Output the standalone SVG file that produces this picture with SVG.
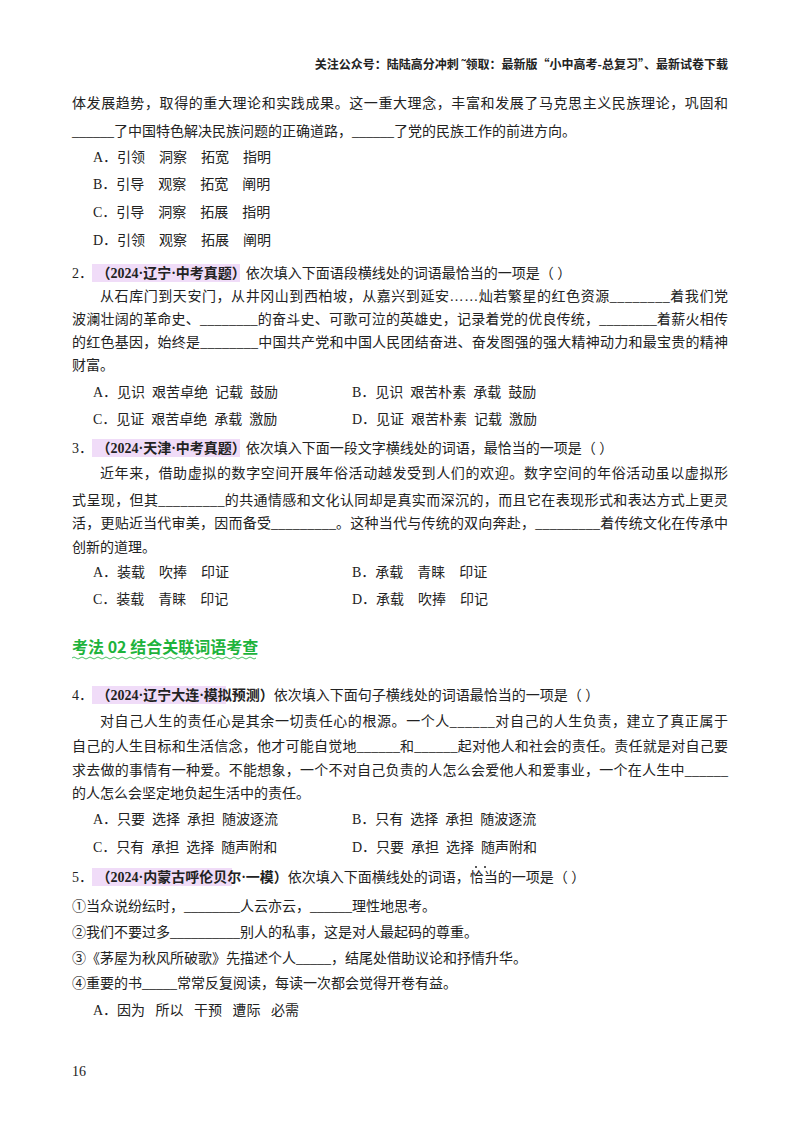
<svg xmlns="http://www.w3.org/2000/svg" width="800" height="1132" viewBox="0 0 800 1132">
<style>
text{font-family:"Liberation Serif","Noto Sans CJK SC",serif;font-size:14px;fill:#222}
.h{font-family:"Noto Sans CJK SC",sans-serif;font-size:12px;font-weight:bold}
.s{font-weight:bold}
.hl{fill:#f0dcf8}
.g{font-family:"Noto Sans CJK SC",sans-serif;font-size:16px;font-weight:bold;fill:#1db33c}
</style>
<rect width="800" height="1132" fill="#fff"/>
<text class="h" x="728" y="69" text-anchor="end">关注公众号：陆陆高分冲刺  ˜领取：最新版“小中高考-总复习”、最新试卷下载</text>
<g id="q1">
<text x="72" y="108" textLength="656" lengthAdjust="spacing">体发展趋势，取得的重大理论和实践成果。这一重大理念，丰富和发展了马克思主义民族理论，巩固和</text>
<text x="72" y="136">______了中国特色解决民族问题的正确道路，______了党的民族工作的前进方向。</text>
<text x="93" y="162" xml:space="preserve">A．引领    洞察    拓宽    指明</text>
<text x="93" y="189" xml:space="preserve">B．引导    观察    拓宽    阐明</text>
<text x="93" y="217" xml:space="preserve">C．引导    洞察    拓展    指明</text>
<text x="93" y="245" xml:space="preserve">D．引领    观察    拓展    阐明</text>
</g>
<g id="q2">
<rect class="hl" x="92" y="264" width="148" height="18"/>
<text x="72" y="278">2． <tspan class="s">（2024·辽宁·中考真题）</tspan>依次填入下面语段横线处的词语最恰当的一项是（   ）</text>
<text x="100" y="301" textLength="628" lengthAdjust="spacing">从石库门到天安门，从井冈山到西柏坡，从嘉兴到延安……灿若繁星的红色资源________着我们党</text>
<text x="72" y="324" textLength="656" lengthAdjust="spacing">波澜壮阔的革命史、________的奋斗史、可歌可泣的英雄史，记录着党的优良传统，________着薪火相传</text>
<text x="72" y="347" textLength="656" lengthAdjust="spacing">的红色基因，始终是________中国共产党和中国人民团结奋进、奋发图强的强大精神动力和最宝贵的精神</text>
<text x="72" y="370">财富。</text>
<text x="93" y="397" xml:space="preserve">A．见识  艰苦卓绝  记载  鼓励</text>
<text x="352" y="397" xml:space="preserve">B．见识  艰苦朴素  承载  鼓励</text>
<text x="93" y="424" xml:space="preserve">C．见证  艰苦卓绝  承载  激励</text>
<text x="352" y="424" xml:space="preserve">D．见证  艰苦朴素  记载  激励</text>
</g>
<g id="q3">
<rect class="hl" x="92" y="439" width="148" height="18"/>
<text x="72" y="453">3． <tspan class="s">（2024·天津·中考真题）</tspan>依次填入下面一段文字横线处的词语，最恰当的一项是（   ）</text>
<text x="100" y="478" textLength="628" lengthAdjust="spacing">近年来，借助虚拟的数字空间开展年俗活动越发受到人们的欢迎。数字空间的年俗活动虽以虚拟形</text>
<text x="72" y="505" textLength="656" lengthAdjust="spacing">式呈现，但其_________的共通情感和文化认同却是真实而深沉的，而且它在表现形式和表达方式上更灵</text>
<text x="72" y="528" textLength="656" lengthAdjust="spacing">活，更贴近当代审美，因而备受_________。这种当代与传统的双向奔赴，_________着传统文化在传承中</text>
<text x="72" y="552">创新的道理。</text>
<text x="93" y="577" xml:space="preserve">A．装载    吹捧    印证</text>
<text x="352" y="577" xml:space="preserve">B．承载    青睐    印证</text>
<text x="93" y="604" xml:space="preserve">C．装载    青睐    印记</text>
<text x="352" y="604" xml:space="preserve">D．承载    吹捧    印记</text>
</g>
<g id="sec">
<text class="g" x="72" y="653">考法 02 结合关联词语考查</text>
<path d="M72 658 q2 -2 4 0 t4 0 t4 0 t4 0 t4 0 t4 0 t4 0 t4 0 t4 0 t4 0 t4 0 t4 0 t4 0 t4 0 t4 0 t4 0 t4 0 t4 0 t4 0 t4 0 t4 0 t4 0 t4 0 t4 0 t4 0 t4 0 t4 0 t4 0 t4 0 t4 0 t4 0 t4 0 t4 0 t4 0 t4 0 t4 0 t4 0 t4 0 t4 0 t4 0 t4 0 t4 0 t4 0 t4 0 t4 0 t4 0" fill="none" stroke="#1db33c" stroke-width="0.8"/>
</g>
<g id="q4">
<rect class="hl" x="92" y="686" width="134" height="18"/>
<text x="72" y="700">4． <tspan class="s">（2024·辽宁大连·模拟预测）</tspan>依次填入下面句子横线处的词语最恰当的一项是（   ）</text>
<text x="100" y="726" textLength="628" lengthAdjust="spacing">对自己人生的责任心是其余一切责任心的根源。一个人______对自己的人生负责，建立了真正属于</text>
<text x="72" y="751" textLength="656" lengthAdjust="spacing">自己的人生目标和生活信念，他才可能自觉地______和______起对他人和社会的责任。责任就是对自己要</text>
<text x="72" y="775" textLength="656" lengthAdjust="spacing">求去做的事情有一种爱。不能想象，一个不对自己负责的人怎么会爱他人和爱事业，一个在人生中______</text>
<text x="72" y="798">的人怎么会坚定地负起生活中的责任。</text>
<text x="93" y="824" xml:space="preserve">A．只要  选择  承担  随波逐流</text>
<text x="352" y="824" xml:space="preserve">B．只有  选择  承担  随波逐流</text>
<text x="93" y="852" xml:space="preserve">C．只有  承担  选择  随声附和</text>
<text x="352" y="852" xml:space="preserve">D．只要  承担  选择  随声附和</text>
</g>
<g id="q5">
<rect class="hl" x="92" y="868" width="140" height="18"/>
<text x="72" y="882">5． <tspan class="s">（2024·内蒙古呼伦贝尔·一模）</tspan>依次填入下面横线处的词语，恰当的一项是（   ）</text>
<circle cx="476" cy="867" r="1" fill="#222"/><circle cx="485" cy="867" r="1" fill="#222"/>
<text x="72" y="911">①当众说纷纭时，________人云亦云，______理性地思考。</text>
<text x="72" y="937">②我们不要过多__________别人的私事，这是对人最起码的尊重。</text>
<text x="72" y="963">③《茅屋为秋风所破歌》先描述个人_____，结尾处借助议论和抒情升华。</text>
<text x="72" y="988">④重要的书_____常常反复阅读，每读一次都会觉得开卷有益。</text>
<text x="93" y="1015" xml:space="preserve">A．因为   所以   干预   遭际   必需</text>
</g>
<text x="72" y="1076">16</text>
</svg>
